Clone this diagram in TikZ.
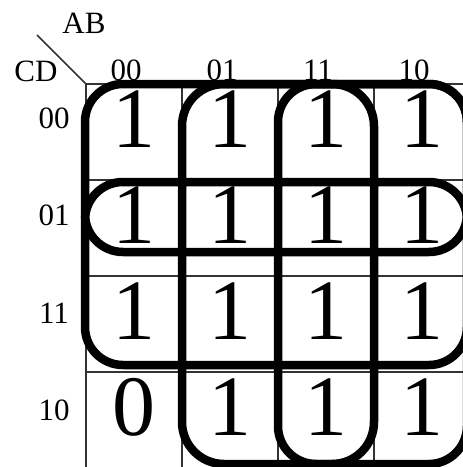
\documentclass[tikz,border=0pt]{standalone}
\usepackage{fontspec}
\setmainfont{Liberation Serif}
\begin{document}
\begin{tikzpicture}[x=1pt,y=-1pt,
  gridline/.style={draw=black!80, line width=1.5pt},
  grouploop/.style={draw=black, line width=8.5pt},
  axislabel/.style={inner sep=0pt, font=\fontsize{31}{31}\selectfont},
  cellval/.style={inner sep=0pt, font=\fontsize{86}{86}\selectfont}]
\useasboundingbox (0,0) rectangle (463,467);

% K-map grid (4x4 cells of 96 units)
\foreach \i in {0,...,4} {
  \draw[gridline] (86+96*\i,84) -- (86+96*\i,468);
  \draw[gridline] (86,84+96*\i) -- (470,84+96*\i);
}
\coordinate (corner) at (86,84);
\coordinate (diagend) at (37,35);
\draw[gridline] (diagend) -- (corner);

% variable names
\node[axislabel] (ab) at (84,23) {AB};
\node[axislabel] (cd) at (36,71) {CD};

% column (AB) and row (CD) codes
\foreach \t [count=\j from 0] in {00,01,11,10} {
  \node[axislabel] (col\j) at (126+96*\j,70) {\t};
  \node[axislabel] (row\j) at (54,118+97.5*\j) {\t};
}

% cell values
\foreach \r/\vals in {0/{1,1,1,1},1/{1,1,1,1},2/{1,1,1,1},3/{0,1,1,1}} {
  \foreach \v [count=\c from 0] in \vals {
    \node[cellval] (v\r\c) at (134+96*\c,119+96*\r) {\v};
  }
}

% groupings: C' (rows 00,01), D (rows 01,11), B (cols 01,11), A (cols 11,10)
\draw[grouploop, rounded corners=38] (85,84) rectangle (467,252);
\draw[grouploop, rounded corners=38] (85,182) rectangle (467,365);
\draw[grouploop, rounded corners=42] (182,84) rectangle (374,464);
\draw[grouploop, rounded corners=38] (278,84) rectangle (467,464);
\end{tikzpicture}
\end{document}
